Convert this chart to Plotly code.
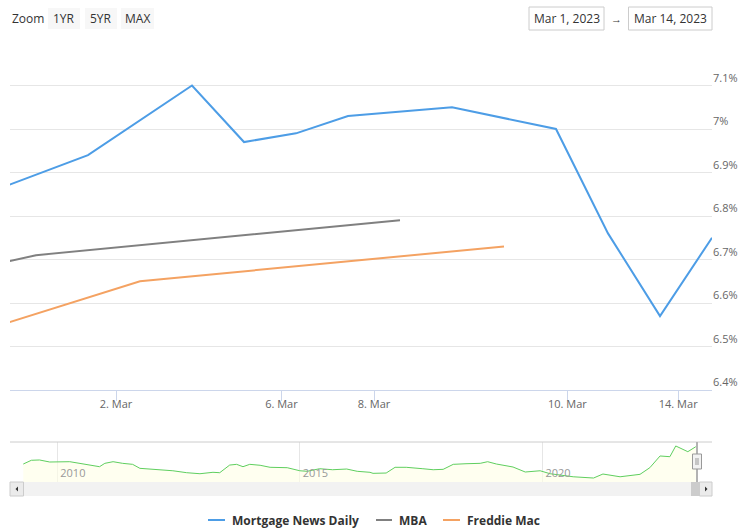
import plotly.graph_objects as go

W, H = 746, 532

# ---------------- data ----------------
series_names = ["Mortgage News Daily", "MBA", "Freddie Mac"]
series_colors = ["#4d9de6", "#808080", "#f4a262"]

# ordinal positions (Highcharts stock ordinal axis) and rates (%)
mnd_pos = [-1, 1, 3, 4, 5, 6, 8, 10, 11, 12, 13]
mnd_val = [6.85, 6.94, 7.10, 6.97, 6.99, 7.03, 7.05, 7.00, 6.76, 6.57, 6.75]
mba_pos = [-3, 0, 7]
mba_val = [6.63, 6.71, 6.79]
fm_pos = [-2, 2, 9]
fm_val = [6.50, 6.65, 6.73]

x_tick_pos = [1.54, 4.72, 6.5, 10.22, 12.35]
x_tick_text = ["2. Mar", "6. Mar", "8. Mar", "10. Mar", "14. Mar"]
y_tick_vals = [6.4, 6.5, 6.6, 6.7, 6.8, 6.9, 7.0, 7.1, 7.2]
y_tick_text = ["6.4%", "6.5%", "6.6%", "6.7%", "6.8%", "6.9%", "7%", "7.1%", ""]

# navigator (long history)
nav_dates = ["2009-04-20", "2009-06-20", "2009-08-20", "2009-11-05", "2010-04-05", "2010-06-20",
             "2010-09-01", "2010-11-15", "2010-12-25", "2011-02-25", "2011-05-08", "2011-07-22",
             "2011-09-15", "2011-12-20", "2012-05-20", "2012-09-01", "2012-12-10", "2013-03-18",
             "2013-05-08", "2013-07-22", "2013-09-12", "2013-10-30", "2013-12-20", "2014-03-08",
             "2014-05-22", "2014-09-28", "2015-01-01", "2015-02-25", "2015-05-30", "2015-09-05",
             "2015-12-20", "2016-03-08", "2016-06-12", "2016-07-05", "2016-10-12", "2016-12-18",
             "2017-03-12", "2017-07-15", "2017-10-01", "2017-12-15", "2018-03-01", "2018-06-05",
             "2018-09-20", "2018-11-15", "2019-01-20", "2019-05-25", "2019-08-25", "2019-12-15",
             "2020-02-28", "2020-08-20", "2021-01-20", "2021-04-01", "2021-08-08", "2022-01-05",
             "2022-03-20", "2022-06-05", "2022-08-18", "2022-10-01", "2022-12-31", "2023-03-01"]
nav_vals = [4.79, 5.27, 5.31, 5.05, 5.09, 4.88,
            4.70, 4.45, 4.88, 5.09, 4.88, 4.75,
            4.24, 4.15, 3.93, 3.68, 3.55, 3.73,
            3.68, 4.66, 4.75, 4.45, 4.75, 4.63,
            4.37, 4.32, 3.93, 3.86, 4.19, 4.06,
            4.15, 3.86, 3.73, 3.60, 3.64, 4.37,
            4.37, 4.19, 4.06, 4.11, 4.75, 4.83,
            4.88, 5.09, 4.79, 4.41, 3.77, 3.93,
            3.55, 3.16, 3.00, 3.51, 3.16, 3.47,
            4.32, 5.82, 5.73, 7.10, 6.37, 7.01]

zoom_buttons = ["1YR", "5YR", "MAX"]
date_from, date_to = "Mar 1, 2023", "Mar 14, 2023"

# ---------------- helpers ----------------
def fx(x):
    return x / W

def fy(y):
    return 1 - y / H

FONT = "Open Sans, Liberation Sans, Arial, sans-serif"

fig = go.Figure()
for name, color, xs, ys in zip(series_names, series_colors,
                               [mnd_pos, mba_pos, fm_pos], [mnd_val, mba_val, fm_val]):
    fig.add_trace(go.Scatter(x=xs, y=ys, mode="lines", name=name,
                             line=dict(color=color, width=2), showlegend=False,
                             xaxis="x", yaxis="y"))

fig.add_trace(go.Scatter(x=nav_dates, y=nav_vals, mode="lines", fill="tozeroy",
                         fillcolor="rgba(255,255,230,0.6)",
                         line=dict(color="#5fcf5f", width=1), showlegend=False,
                         xaxis="x2", yaxis="y2"))

shapes = []
annotations = []

# navigator top border
shapes.append(dict(type="line", xref="paper", yref="paper", x0=fx(10), x1=fx(712),
                   y0=fy(442), y1=fy(442), line=dict(color="#cccccc", width=1)))
# scrollbar track
shapes.append(dict(type="rect", xref="paper", yref="paper", x0=fx(10), x1=fx(712),
                   y0=fy(496), y1=fy(482), fillcolor="#f2f2f2", line=dict(width=0)))
# left button
shapes.append(dict(type="rect", xref="paper", yref="paper", x0=fx(10), x1=fx(23.5),
                   y0=fy(496), y1=fy(482), fillcolor="#ebebeb",
                   line=dict(color="#cccccc", width=1)))
shapes.append(dict(type="path", xref="paper", yref="paper",
                   path=f"M {fx(15.5)} {fy(489)} L {fx(18)} {fy(486.5)} L {fx(18)} {fy(491.5)} Z",
                   fillcolor="#333333", line=dict(width=0)))
# thumb
shapes.append(dict(type="rect", xref="paper", yref="paper", x0=fx(691), x1=fx(700),
                   y0=fy(496), y1=fy(482), fillcolor="#cccccc", line=dict(width=0)))
# right button
shapes.append(dict(type="rect", xref="paper", yref="paper", x0=fx(699.5), x1=fx(712),
                   y0=fy(496), y1=fy(482), fillcolor="#ebebeb",
                   line=dict(color="#cccccc", width=1)))
shapes.append(dict(type="path", xref="paper", yref="paper",
                   path=f"M {fx(707.5)} {fy(489)} L {fx(705)} {fy(486.5)} L {fx(705)} {fy(491.5)} Z",
                   fillcolor="#333333", line=dict(width=0)))
# navigator outline / handle
shapes.append(dict(type="line", xref="paper", yref="paper", x0=fx(697), x1=fx(697),
                   y0=fy(482), y1=fy(442), line=dict(color="#b3b3b3", width=2)))
shapes.append(dict(type="rect", xref="paper", yref="paper", x0=fx(692.5), x1=fx(701.5),
                   y0=fy(469), y1=fy(454), fillcolor="#f2f2f2",
                   line=dict(color="#999999", width=1)))
for hx in (696, 698):
    shapes.append(dict(type="line", xref="paper", yref="paper", x0=fx(hx), x1=fx(hx),
                       y0=fy(465), y1=fy(458), line=dict(color="#999999", width=1)))

# zoom label and buttons
annotations.append(dict(text="Zoom", xref="paper", yref="paper", x=fx(10), y=fy(18),
                        xanchor="left", yanchor="middle", showarrow=False,
                        font=dict(family=FONT, size=12, color="#333333")))
btn_x = [(48, 80), (85, 117), (121, 154)]
for label, (a, b) in zip(zoom_buttons, btn_x):
    shapes.append(dict(type="rect", xref="paper", yref="paper", x0=fx(a), x1=fx(b),
                       y0=fy(29), y1=fy(8), fillcolor="#f7f7f7", line=dict(width=0)))
    annotations.append(dict(text=label, xref="paper", yref="paper", x=fx((a + b) / 2), y=fy(18.5),
                            xanchor="center", yanchor="middle", showarrow=False,
                            font=dict(family=FONT, size=12, color="#333333")))
# date inputs
for txt, (a, b) in [(date_from, (529, 604)), (date_to, (628.5, 712))]:
    shapes.append(dict(type="rect", xref="paper", yref="paper", x0=fx(a), x1=fx(b),
                       y0=fy(30), y1=fy(7), fillcolor="white",
                       line=dict(color="#cccccc", width=1)))
    annotations.append(dict(text=txt, xref="paper", yref="paper", x=fx((a + b) / 2), y=fy(18.5),
                            xanchor="center", yanchor="middle", showarrow=False,
                            font=dict(family=FONT, size=12, color="#333333")))
annotations.append(dict(text="→", xref="paper", yref="paper", x=fx(616.5), y=fy(18.5),
                        xanchor="center", yanchor="middle", showarrow=False,
                        font=dict(family=FONT, size=11, color="#333333")))

# legend (custom)
leg_sym = [(208, 225), (376, 392), (443, 460)]
leg_txt = [230, 397, 465]
for name, color, (a, b), tx in zip(series_names, series_colors, leg_sym, leg_txt):
    shapes.append(dict(type="line", xref="paper", yref="paper", x0=fx(a), x1=fx(b),
                       y0=fy(520), y1=fy(520), line=dict(color=color, width=2)))
    annotations.append(dict(text=f"<b>{name}</b>", xref="paper", yref="paper", x=fx(tx), y=fy(520),
                            xanchor="left", yanchor="middle", showarrow=False,
                            font=dict(family=FONT, size=12, color="#333333")))

fig.update_layout(
    width=W, height=H,
    margin=dict(l=0, r=0, t=0, b=0),
    paper_bgcolor="white", plot_bgcolor="white",
    font=dict(family=FONT, size=11, color="#666666"),
    showlegend=False,
    xaxis=dict(domain=[fx(10), fx(712)], range=[-0.5, 13], anchor="y",
               tickmode="array", tickvals=x_tick_pos, ticktext=x_tick_text,
               showgrid=False, zeroline=False, showline=True, linecolor="#ccd6eb", linewidth=1,
               ticks="outside", ticklen=10, tickcolor="#ccd6eb", tickwidth=1,
               ticklabelstandoff=-6,
               tickfont=dict(family=FONT, size=11, color="#666666")),
    yaxis=dict(domain=[fy(390), fy(42)], range=[6.4, 7.2], anchor="x", side="right",
               tickmode="array", tickvals=y_tick_vals, ticktext=y_tick_text,
               showgrid=True, gridcolor="#e6e6e6", gridwidth=1, zeroline=False,
               showline=False, ticks="", ticklabelposition="outside top",
               tickfont=dict(family=FONT, size=11, color="#666666")),
    xaxis2=dict(domain=[fx(10), fx(712)], range=["2009-01-10", "2023-07-01"], anchor="y2",
                type="date", tick0="2010-01-01", dtick="M60", tickformat="%Y",
                showgrid=True, gridcolor="#e6e6e6", zeroline=False, showline=False,
                ticks="", ticklabelposition="inside right",
                ticklabelstandoff=-3, ticklabelshift=3,
                tickfont=dict(family=FONT, size=11, color="#999999")),
    yaxis2=dict(domain=[fy(482), fy(442)], range=[2.49, 7.61], anchor="x2",
                showgrid=False, zeroline=False, showticklabels=False, showline=False),
    shapes=shapes,
    annotations=annotations,
)

fig.write_html("out.html", config={"displayModeBar": False},
               post_script="document.body.style.margin='0';document.body.style.overflow='hidden';")
